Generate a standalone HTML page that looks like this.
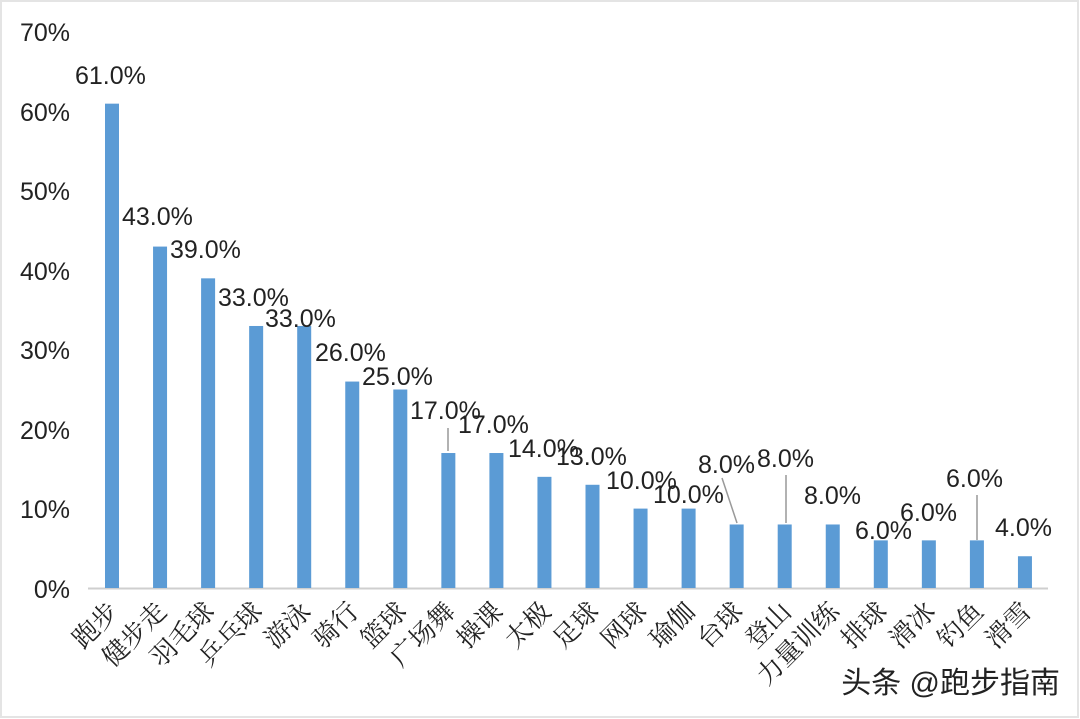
<!DOCTYPE html>
<html><head><meta charset="utf-8"><style>
html,body{margin:0;padding:0;background:#fff;}
svg{display:block;}
</style></head><body>
<svg width="1080" height="719" viewBox="0 0 1080 719" xmlns="http://www.w3.org/2000/svg">
<rect x="0" y="0" width="1080" height="719" fill="#fff"/>
<rect x="1" y="1" width="1077" height="716" fill="none" stroke="#e4e4e4" stroke-width="2"/>
<g font-family="Liberation Sans, sans-serif" font-size="25" fill="#222" text-anchor="end">
<text x="70" y="41">70%</text>
<text x="70" y="121">60%</text>
<text x="70" y="200">50%</text>
<text x="70" y="280">40%</text>
<text x="70" y="359">30%</text>
<text x="70" y="439">20%</text>
<text x="70" y="518">10%</text>
<text x="70" y="598">0%</text>
</g>
<line x1="88" y1="588.5" x2="1048" y2="588.5" stroke="#cfcfcf" stroke-width="2"/>
<g fill="#5b9bd5" id="bars"></g>
<g stroke="#999" stroke-width="1.5">
<line x1="448" y1="428" x2="448" y2="451"/>
<line x1="722" y1="478" x2="737" y2="523"/>
<line x1="786" y1="475" x2="786" y2="523"/>
<line x1="977" y1="495" x2="977" y2="540"/>
</g>
<g font-family="Liberation Sans, sans-serif" font-size="25" fill="#222">
<text x="75" y="84">61.0%</text>
<text x="122" y="225">43.0%</text>
<text x="170" y="258">39.0%</text>
<text x="218" y="306">33.0%</text>
<text x="265" y="327">33.0%</text>
<text x="315" y="361">26.0%</text>
<text x="362" y="385">25.0%</text>
<text x="410" y="419">17.0%</text>
<text x="458" y="433">17.0%</text>
<text x="508" y="457">14.0%</text>
<text x="556" y="465">13.0%</text>
<text x="606" y="489">10.0%</text>
<text x="653" y="503">10.0%</text>
<text x="698" y="473">8.0%</text>
<text x="757" y="467">8.0%</text>
<text x="804" y="504">8.0%</text>
<text x="855" y="539">6.0%</text>
<text x="900" y="521">6.0%</text>
<text x="946" y="487">6.0%</text>
<text x="995" y="536">4.0%</text>
</g>
<g id="cats" font-family="Liberation Serif, 'Noto Serif CJK SC', serif" font-size="26" fill="#222" text-anchor="end"></g>
<text x="1060" y="693" text-anchor="end" font-family="Liberation Sans, 'Noto Sans CJK SC', sans-serif" font-size="30" fill="#222">头条 @跑步指南</text>
<script>
var v=[61,43,39,33,33,26,25,17,17,14,13,10,10,8,8,8,6,6,6,4];
var c=["跑步","健步走","羽毛球","乒乓球","游泳","骑行","篮球","广场舞","操课","太极","足球","网球","瑜伽","台球","登山","力量训练","排球","滑冰","钓鱼","滑雪"];
var ns="http://www.w3.org/2000/svg",b=document.getElementById("bars"),g=document.getElementById("cats");
for(var i=0;i<20;i++){var cx=112+i*48.05;var h=v[i]*7.94;
var r=document.createElementNS(ns,"rect");r.setAttribute("x",cx-7);r.setAttribute("y",588-h);r.setAttribute("width",14);r.setAttribute("height",h);b.appendChild(r);
var t=document.createElementNS(ns,"text");var ax=cx+8,ay=613;t.setAttribute("x",ax);t.setAttribute("y",ay);t.setAttribute("transform","rotate(-45 "+ax+" "+ay+")");t.textContent=c[i];g.appendChild(t);}
</script>
</svg>
</body></html>
